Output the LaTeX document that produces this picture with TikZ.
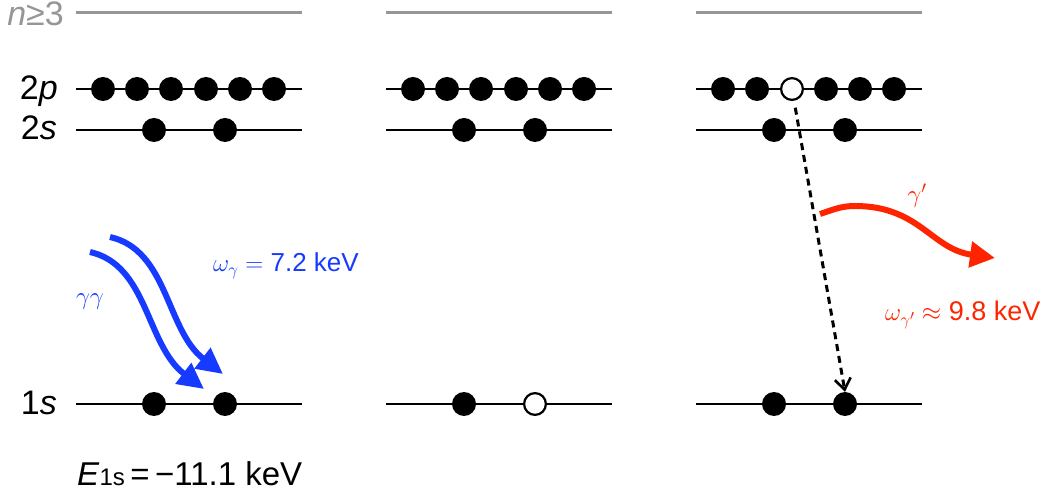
\documentclass[tikz,border=0pt]{standalone}
\usepackage{fontspec}
\setmainfont{Liberation Sans}
\usetikzlibrary{arrows.meta}
\definecolor{photonblue}{RGB}{22,58,255}
\definecolor{photonred}{RGB}{255,36,0}
\definecolor{levelgray}{RGB}{150,150,150}
\tikzset{
  level/.style={line width=2.2pt, black},
  highlevel/.style={line width=3pt, levelgray},
  electron/.style={circle, fill=black, inner sep=0pt, minimum size=24pt},
  hole/.style={circle, fill=white, draw=black, line width=2.2pt, inner sep=0pt, minimum size=21.8pt},
  lbl/.style={inner sep=0pt, font=\fontsize{34}{36}\selectfont},
  photonin/.style={photonblue, line width=6pt, -{Triangle[length=26pt,width=25pt]}},
  photonout/.style={photonred, line width=6pt, -{Triangle[length=25pt,width=25pt]}},
  decay/.style={line width=3pt, dash pattern=on 7pt off 5pt, -{Straight Barb[length=11pt,width=16pt,line width=2.6pt]}}
}
\begin{document}
\begin{tikzpicture}[x=1pt, y=-1pt]
\useasboundingbox (0,0) rectangle (1055,502);

% energy levels of the three panels
\foreach \i/\dx in {1/0, 2/310, 3/620} {
  \draw[highlevel] (76+\dx,13) -- (302+\dx,13);
  \draw[level] (76+\dx,89) -- (302+\dx,89);
  \draw[level] (76+\dx,130) -- (302+\dx,130);
  \draw[level] (76+\dx,404) -- (302+\dx,404);
}

% level labels
\node[lbl, anchor=base east, text=levelgray] (lN) at (64,26) {\itshape n\upshape≥3};
\node[lbl, anchor=base east] (lP) at (58,100) {2\itshape p};
\node[lbl, anchor=base east] (lS) at (57,140) {2\itshape s};
\node[lbl, anchor=base east] (l1) at (57,415) {1\itshape s};
\node[lbl, anchor=base west, font=\fontsize{33}{36}\selectfont] (lE) at (77,485) {\textit{E}{\fontsize{24}{26}\selectfont 1s}\,=\,−11.1 keV};

% panel 1: ground state
\foreach \k/\x in {a/103, b/137, c/171, d/206, e/240, f/274} {
  \node[electron] (pA\k) at (\x,89) {};
  \node[electron] (pB\k) at (\x+310,89) {};
}
\node[electron] (sA1) at (154,130) {};
\node[electron] (sA2) at (225,130) {};
\node[electron] (kA1) at (154,404) {};
\node[electron] (kA2) at (225,404) {};

% panel 2: double K-shell excitation leaves a 1s hole
\node[electron] (sB1) at (464,130) {};
\node[electron] (sB2) at (535,130) {};
\node[electron] (kB1) at (464,404) {};
\node[hole] (kB2) at (535,404) {};

% panel 3: 2p -> 1s radiative decay
\node[electron] (pC1) at (723,89) {};
\node[electron] (pC2) at (757,89) {};
\node[hole] (pC3) at (792,89) {};
\node[electron] (pC4) at (826,89) {};
\node[electron] (pC5) at (860,89) {};
\node[electron] (pC6) at (894,89) {};
\node[electron] (sC1) at (774,130) {};
\node[electron] (sC2) at (845,130) {};
\node[electron] (kC1) at (774,404) {};
\node[electron] (kC2) at (845,404) {};

\draw[decay, shorten <=7pt, shorten >=0pt] (pC3) -- (kC2.north);

% incoming two-photon pair
\coordinate (gA0) at (110,237);
\coordinate (gA1) at (223,374);
\coordinate (gB0) at (90,252);
\coordinate (gB1) at (204,389);
\draw[photonin] (gA0) .. controls (168,250) and (166,330) .. (gA1);
\draw[photonin] (gB0) .. controls (148,265) and (146,345) .. (gB1);
\node[lbl, anchor=base west, text=photonblue, font=\fontsize{26}{28}\selectfont] (wIn) at (213,272) {$\omega_\gamma = $ 7.2 keV};
\node[lbl, anchor=base, text=photonblue, font=\fontsize{26}{26}\selectfont] (gg) at (90,305) {$\gamma\gamma$};

% emitted photon
\coordinate (gC0) at (820,214);
\coordinate (gCm) at (855,206);
\coordinate (gC1) at (995,258);
\draw[photonout] (gC0) to[out=18,in=180] (gCm) to[out=0,in=172,looseness=1.1] (gC1);
\node[lbl, anchor=base, text=photonred, font=\fontsize{24}{26}\selectfont] (gp) at (917,203) {$\gamma'$};
\node[lbl, anchor=base west, text=photonred, font=\fontsize{27}{28}\selectfont] (wOut) at (885,321) {$\omega_{\gamma'} \approx$ 9.8 keV};
\end{tikzpicture}
\end{document}
